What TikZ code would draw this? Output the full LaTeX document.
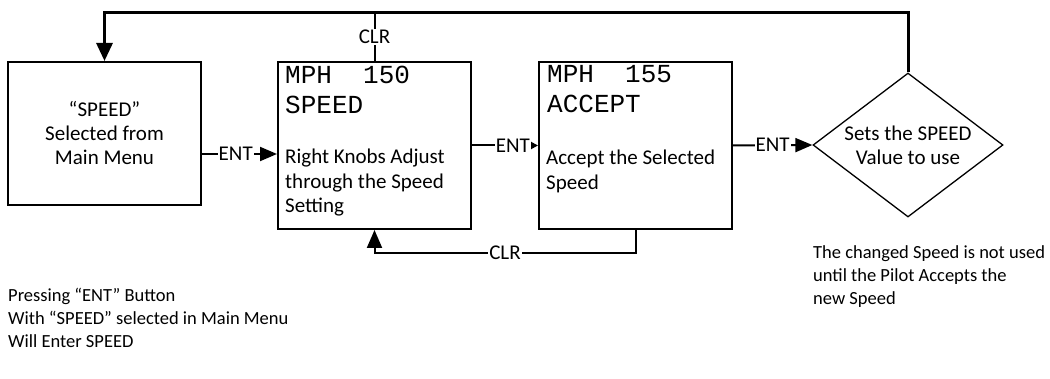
\documentclass[tikz,border=0pt]{standalone}
\usepackage{fontspec}
\setmainfont{Carlito}
\newfontfamily\lcdfont{Liberation Mono}
\usetikzlibrary{shapes.geometric,arrows.meta}

\begin{document}
\begin{tikzpicture}[x=1pt,y=-1pt,
    box/.style={draw,line width=2pt,minimum width=193pt,minimum height=167pt,inner sep=0pt},
    txt/.style={font=\fontsize{21}{24.5}\selectfont,align=left,anchor=north west,inner sep=0pt},
    note/.style={font=\fontsize{18.5}{23}\selectfont,align=left,anchor=north west,inner sep=0pt},
    lcd/.style={font=\lcdfont\fontsize{26}{30}\selectfont,align=left,anchor=north west,inner sep=0pt},
    lbl/.style={font=\fontsize{21}{24}\selectfont,fill=white,inner sep=1pt},
    flow/.style={line width=2pt,-{Triangle[length=17pt,width=14pt]}},
    loopline/.style={line width=3pt,-{Triangle[length=18pt,width=16pt]}}]
    \useasboundingbox (0,0) rectangle (1050,379);
    % boxes
    \node[box,minimum height=143pt,align=center,font=\fontsize{21}{24}\selectfont] (select) at (104.5,133.5) {“SPEED”\\Selected from\\Main Menu};
    \node[box] (adjust) at (374.5,145.5) {};
    \node[box] (accept) at (635.5,145.5) {};
    \node[draw,diamond,shape aspect=1.32,line width=1.3pt,minimum width=190pt,minimum height=144pt,inner sep=0pt,align=center,font=\fontsize{21}{24}\selectfont] (sets) at (908,145) {Sets the SPEED\\Value to use};
    % box contents
    \node[lcd] (lcdadj) at (285,66) {MPH\ \ 150\\SPEED};
    \node[txt] (knobs) at (285,149) {Right Knobs Adjust\\through the Speed\\Setting};
    \node[lcd] (lcdacc) at (547,65) {MPH\ \ 155\\ACCEPT};
    \node[txt] (acctxt) at (546,150) {Accept the Selected\\Speed};
    % notes
    \node[note] (pilot) at (813,245) {The changed Speed is not used\\until the Pilot Accepts the\\new Speed};
    \node[note] (press) at (8,288) {Pressing “ENT” Button\\With “SPEED” selected in Main Menu\\Will Enter SPEED};
    % connectors
    \coordinate (looptop) at (908,13);
    \draw[loopline] (sets.north) -- (looptop) -| (select.north);
    \draw[line width=2pt] (adjust.north) -- node[lbl] {CLR} (adjust.north |- looptop);
    \draw[flow] ([yshift=-20.5pt]select.east) -- node[lbl,pos=0.45] {ENT} ([yshift=-20.5pt]select.east -| adjust.west);
    \draw[flow,-{Triangle[length=7pt,width=7pt]}] (adjust.east) -- node[lbl,pos=0.62] {ENT} (accept.west);
    \draw[flow] (accept.east) -- node[lbl] {ENT} (sets.west);
    \draw[flow,-{Triangle[length=18pt,width=15pt]}] (accept.south) -- ++(0,23) -| node[lbl,pos=0.25] {CLR} (adjust.south);
\end{tikzpicture}
\end{document}
